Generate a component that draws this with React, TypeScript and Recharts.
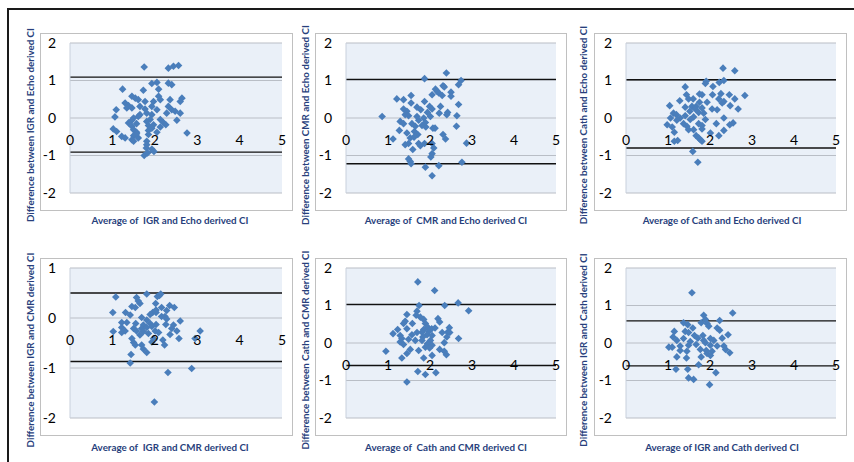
import { ScatterChart, Scatter, XAxis, YAxis, CartesianGrid, ReferenceLine } from 'recharts';

type Pt = { x: number; y: number };

const toPts = (rows: number[][]): Pt[] => rows.map(([x, y]) => ({ x, y }));

// IGR vs Echo
const igrEcho = toPts([
  [1.75, 1.36], [2.32, 1.33], [2.44, 1.38], [2.56, 1.4], [2.05, 0.95], [1.93, 0.92], [2.32, 0.93],
  [2.4, 0.89], [1.24, 0.77], [1.73, 0.74], [2.09, 0.77], [1.46, 0.58], [1.54, 0.53], [1.61, 0.49],
  [1.77, 0.44], [2.09, 0.58], [2.13, 0.49], [1.97, 0.44], [2.36, 0.49], [2.64, 0.53], [2.6, 0.44],
  [1.3, 0.4], [1.38, 0.33], [1.34, 0.27], [1.09, 0.22], [1.46, 0.27], [1.65, 0.31], [1.77, 0.24],
  [1.93, 0.31], [2.05, 0.22], [2.32, 0.31], [2.4, 0.22], [2.48, 0.18], [2.6, 0.13], [2.28, 0.13],
  [1.65, 0.09], [1.61, 0.04], [1.81, 0.13], [1.93, 0.09], [1.06, 0.03], [1.5, 0.0], [1.46, -0.06],
  [1.89, -0.04], [1.81, -0.09], [2.13, -0.04], [2.2, -0.12], [2.52, -0.06], [1.38, -0.13],
  [1.46, -0.22], [1.57, -0.15], [1.85, -0.2], [1.97, -0.18], [2.13, -0.24], [2.26, -0.18],
  [1.02, -0.29], [1.1, -0.36], [1.5, -0.31], [1.57, -0.38], [1.85, -0.33], [1.93, -0.27],
  [2.05, -0.38], [2.76, -0.4], [1.22, -0.49], [1.3, -0.53], [1.5, -0.47], [1.46, -0.58],
  [1.61, -0.53], [1.85, -0.44], [1.5, -0.62], [1.81, -0.62], [1.81, -0.71], [1.8, -0.8],
  [1.93, -0.83], [1.98, -0.89], [1.75, -1.0], [1.83, -0.93], [1.57, -0.42],
]);

// CMR vs Echo
const cmrEcho = toPts([
  [2.39, 1.2], [1.87, 1.05], [2.74, 1.0], [2.68, 0.89], [2.31, 0.86], [2.34, 0.83], [2.13, 0.77],
  [2.17, 0.71], [2.21, 0.67], [2.5, 0.69], [2.5, 0.58], [2.05, 0.62], [2.29, 0.6], [1.55, 0.6],
  [1.21, 0.51], [1.37, 0.49], [1.87, 0.44], [1.55, 0.4], [2.68, 0.36], [1.69, 0.29], [1.99, 0.31],
  [2.05, 0.24], [2.25, 0.31], [1.37, 0.24], [1.45, 0.18], [1.41, 0.09], [1.49, 0.06], [1.78, 0.22],
  [1.94, 0.15], [2.22, 0.13], [2.42, 0.15], [2.4, 0.09], [2.64, 0.06], [0.86, 0.04], [1.69, 0.04],
  [1.85, 0.0], [2.01, 0.04], [1.29, -0.09], [1.37, -0.15], [1.57, -0.15], [1.73, -0.06],
  [1.89, -0.12], [1.65, -0.22], [1.81, -0.2], [1.9, -0.24], [2.07, -0.27], [2.12, -0.27],
  [2.63, -0.22], [1.27, -0.33], [1.45, -0.4], [1.63, -0.36], [1.71, -0.44], [1.62, -0.51],
  [1.53, -0.53], [2.31, -0.44], [2.37, -0.56], [1.12, -0.56], [1.41, -0.71], [1.49, -0.68],
  [1.73, -0.68], [1.77, -0.74], [1.87, -0.68], [2.05, -0.68], [2.09, -0.8], [2.87, -0.67],
  [1.59, -0.84], [2.05, -0.95], [1.49, -1.09], [1.53, -1.16], [1.55, -1.22], [2.21, -1.27],
  [1.89, -1.31], [2.76, -1.18], [2.05, -1.54], [2.02, -1.04],
]);

// Cath vs Echo
const cathEcho = toPts([
  [2.31, 1.33], [2.59, 1.26], [2.33, 1.0], [1.91, 0.98], [1.89, 0.92], [2.22, 0.95], [2.07, 0.84],
  [1.41, 0.83], [1.44, 0.62], [1.75, 0.64], [1.81, 0.62], [2.06, 0.62], [2.26, 0.65], [2.46, 0.62],
  [2.83, 0.6], [1.49, 0.51], [1.6, 0.51], [2.21, 0.51], [2.33, 0.44], [2.29, 0.4], [2.59, 0.51],
  [1.28, 0.46], [1.75, 0.42], [1.93, 0.42], [1.04, 0.33], [2.48, 0.33], [1.41, 0.29], [1.57, 0.31],
  [1.67, 0.31], [1.65, 0.24], [1.81, 0.27], [2.05, 0.24], [2.17, 0.22], [2.67, 0.24], [1.52, 0.18],
  [1.73, 0.15], [1.13, 0.13], [1.2, 0.09], [1.85, 0.13], [1.41, 0.06], [1.61, 0.03], [1.06, 0.0],
  [1.29, 0.0], [2.33, 0.0], [1.53, -0.04], [1.89, -0.04], [1.21, -0.06], [2.55, -0.13],
  [2.47, -0.18], [0.98, -0.18], [1.37, -0.15], [1.73, -0.15], [2.15, -0.15], [1.81, -0.2],
  [1.45, -0.22], [1.1, -0.24], [1.49, -0.31], [1.61, -0.31], [1.81, -0.29], [2.33, -0.33],
  [1.15, -0.38], [2.01, -0.4], [2.21, -0.47], [1.67, -0.47], [1.73, -0.53], [1.77, -0.58],
  [1.15, -0.62], [1.23, -0.6], [1.81, -0.62], [1.59, -0.89], [1.71, -1.18],
]);

// IGR vs CMR
const igrCmr = toPts([
  [1.81, 0.48], [2.14, 0.48], [2.06, 0.43], [1.08, 0.42], [1.57, 0.41], [2.11, 0.45], [1.61, 0.34],
  [1.65, 0.29], [2.02, 0.29], [1.46, 0.23], [1.54, 0.21], [2.16, 0.21], [2.35, 0.25], [2.46, 0.21],
  [2.03, 0.16], [2.28, 0.15], [1.95, 0.11], [2.03, 0.11], [1.01, 0.11], [1.31, 0.11], [1.42, 0.06],
  [1.89, 0.07], [2.16, 0.03], [2.24, 0.03], [1.69, 0.01], [2.28, -0.02], [1.81, -0.04],
  [2.6, -0.06], [1.22, -0.09], [1.34, -0.09], [1.55, -0.11], [1.89, -0.11], [1.73, -0.14],
  [2.03, -0.13], [2.26, -0.13], [2.44, -0.14], [1.22, -0.19], [1.5, -0.21], [1.69, -0.21],
  [1.81, -0.19], [1.93, -0.17], [2.4, -0.21], [1.3, -0.26], [1.57, -0.26], [1.73, -0.27],
  [2.01, -0.26], [3.07, -0.26], [1.02, -0.27], [1.22, -0.29], [1.85, -0.31], [2.09, -0.29],
  [2.52, -0.26], [2.36, -0.33], [1.65, -0.34], [1.46, -0.41], [1.97, -0.41], [2.19, -0.44],
  [2.57, -0.41], [2.95, -0.41], [1.5, -0.49], [1.54, -0.54], [1.69, -0.54], [1.93, -0.48],
  [2.23, -0.54], [1.73, -0.62], [1.81, -0.69], [1.44, -0.73], [1.42, -0.9], [2.31, -1.09],
  [2.87, -1.01], [1.99, -1.68],
]);

// Cath vs CMR
const cathCmr = toPts([
  [1.71, 1.63], [2.11, 1.4], [2.67, 1.07], [2.35, 1.0], [1.74, 1.0], [2.92, 0.86], [1.69, 0.85],
  [1.45, 0.76], [1.67, 0.74], [1.77, 0.69], [1.85, 0.63], [2.19, 0.65], [2.23, 0.56], [1.41, 0.58],
  [1.37, 0.52], [1.58, 0.52], [1.89, 0.52], [1.94, 0.43], [2.46, 0.41], [1.23, 0.36], [1.45, 0.38],
  [2.04, 0.38], [2.12, 0.4], [1.85, 0.36], [1.81, 0.29], [1.69, 0.28], [1.97, 0.31], [2.42, 0.29],
  [1.12, 0.25], [2.29, 0.28], [2.47, 0.28], [1.57, 0.22], [1.93, 0.22], [2.05, 0.2], [1.29, 0.2],
  [1.83, 0.16], [2.4, 0.16], [1.33, 0.12], [2.68, 0.12], [1.49, 0.1], [1.65, 0.07], [1.81, 0.07],
  [2.01, 0.07], [1.29, 0.03], [2.34, 0.01], [1.37, -0.04], [1.94, -0.02], [2.05, -0.06],
  [1.89, -0.11], [1.99, -0.13], [0.95, -0.22], [1.53, -0.17], [1.73, -0.2], [2.23, -0.17],
  [2.34, -0.22], [1.45, -0.28], [2.39, -0.31], [2.05, -0.33], [1.33, -0.4], [1.85, -0.4],
  [1.71, -0.76], [1.89, -0.84], [2.14, -0.79], [1.45, -1.04],
]);

// IGR vs Cath
const igrCath = toPts([
  [1.57, 1.34], [2.54, 0.8], [1.85, 0.74], [1.89, 0.63], [2.23, 0.6], [1.37, 0.54], [1.47, 0.49],
  [1.79, 0.54], [1.93, 0.52], [1.97, 0.45], [1.59, 0.4], [2.17, 0.4], [2.23, 0.34], [1.15, 0.31],
  [1.41, 0.31], [1.49, 0.28], [1.63, 0.2], [1.83, 0.2], [2.43, 0.22], [1.12, 0.16], [1.37, 0.12],
  [1.71, 0.13], [2.01, 0.12], [2.29, 0.13], [1.21, 0.07], [1.53, 0.04], [1.85, 0.07], [2.09, 0.07],
  [1.89, 0.01], [1.02, -0.11], [1.1, -0.11], [1.29, -0.08], [1.49, -0.06], [1.67, -0.04],
  [2.01, -0.06], [2.17, -0.08], [2.33, -0.08], [1.29, -0.2], [1.45, -0.22], [1.77, -0.17],
  [1.91, -0.2], [2.05, -0.22], [2.37, -0.17], [2.47, -0.26], [1.21, -0.37], [1.44, -0.4],
  [1.79, -0.37], [1.93, -0.28], [2.01, -0.33], [1.73, -0.58], [1.19, -0.7], [1.47, -0.7],
  [2.14, -0.79], [1.49, -0.93], [1.61, -0.97], [1.99, -1.11],
]);

const seriesList = [igrEcho, cmrEcho, cathEcho, igrCmr, cathCmr, igrCath];
const limitList = [
  [1.09, -0.91],
  [1.03, -1.22],
  [1.02, -0.8],
  [0.5, -0.87],
  [1.03, -0.6],
  [0.59, -0.61],
];
const yTickList = [
  [2, 1, 0, -1, -2],
  [2, 1, 0, -1, -2],
  [2, 1, 0, -1, -2],
  [1, 0, -1, -2],
  [2, 1, 0, -1, -2],
  [2, 1, 0, -1, -2],
];
const xTicks = [0, 1, 2, 3, 4, 5];
const yTitles = [
  'Difference between IGR and Echo derived CI',
  'Difference between CMR and Echo derived CI',
  'Difference between Cath and Echo derived CI',
  'Difference between IGR and CMR derived CI',
  'Difference between Cath and CMR derived CI',
  'Difference between IGR and Cath derived CI',
];
const xTitles = [
  'Average of  IGR and Echo derived CI',
  'Average of  CMR and Echo derived CI',
  'Average of Cath and Echo derived CI',
  'Average of  IGR and CMR derived CI',
  'Average of  Cath and CMR derived CI',
  'Average of IGR and Cath derived CI',
];

const COLS = [
  { boxLeft: 40, boxWidth: 253, axisW: 30, yTitleX: 30, xTitleX: 170 },
  { boxLeft: 315, boxWidth: 252, axisW: 31, yTitleX: 305, xTitleX: 446 },
  { boxLeft: 594, boxWidth: 253, axisW: 32, yTitleX: 583, xTitleX: 722 },
];
const ROWS = [
  { boxTop: 33, yTitleY: 125, xTitleY: 220 },
  { boxTop: 258, yTitleY: 350, xTitleY: 447 },
];
const BOX_H = 178;
const PLOT_TOP = 10;
const AXIS_H = 18;
const PLOT_H = BOX_H - PLOT_TOP - AXIS_H;

const DOT = '#4a7ebb';
const TITLE = '#283f7c';
const FONT = 'Lato, "Open Sans", sans-serif';

function Diamond(props: any) {
  const { cx, cy } = props;
  if (cx == null || cy == null) return null;
  const r = 3.8;
  return <path d={`M${cx},${cy - r}L${cx + r},${cy}L${cx},${cy + r}L${cx - r},${cy}Z`} fill={DOT} />;
}

function Panel({ idx }: { idx: number }) {
  const col = COLS[idx % 3];
  const row = ROWS[Math.floor(idx / 3)];
  const ticks = yTickList[idx];
  const yMin = Math.min(...ticks);
  const yMax = Math.max(...ticks);
  // x labels sit just below the zero line, as in Excel with the axis crossing at 0
  const lift = (PLOT_H * (0 - yMin)) / (yMax - yMin) - 21;
  const XTick = (p: any) => (
    <text x={p.x} y={p.y - lift} textAnchor="middle" dominantBaseline="central" fontSize={14} fontFamily={FONT} fill="#000">
      {p.payload.value}
    </text>
  );
  return (
    <>
      <div
        style={{
          position: 'absolute',
          left: col.boxLeft,
          top: row.boxTop,
          width: col.boxWidth,
          height: BOX_H,
          boxSizing: 'border-box',
          border: '1px solid #c0c0c0',
          background: '#fff',
        }}
      />
      <div style={{ position: 'absolute', left: col.boxLeft, top: row.boxTop }}>
        <ScatterChart width={col.boxWidth} height={BOX_H} margin={{ top: PLOT_TOP, right: 11, bottom: 0, left: 0 }}>
          <CartesianGrid vertical={false} horizontal stroke="#b9bec6" strokeWidth={1.2} fill="#eaf0f8" />
          <XAxis
            type="number"
            dataKey="x"
            domain={[0, 5]}
            ticks={xTicks}
            interval={0}
            height={AXIS_H}
            axisLine={false}
            tickLine={false}
            tickSize={0}
            tickMargin={0}
            tick={XTick}
          />
          <YAxis
            type="number"
            dataKey="y"
            domain={[yMin, yMax]}
            ticks={ticks}
            interval={0}
            width={col.axisW}
            axisLine={{ stroke: '#c8d0dc' }}
            tickLine={false}
            tickSize={6}
            tickMargin={8}
            tick={{ fontSize: 14, fontFamily: FONT, fill: '#000' }}
          />
          {limitList[idx].map((v, i) => (
            <ReferenceLine key={i} y={v} stroke="#111" strokeWidth={1.3} />
          ))}
          <Scatter data={seriesList[idx]} shape={Diamond} isAnimationActive={false} />
        </ScatterChart>
      </div>
      <div
        style={{
          position: 'absolute',
          left: col.yTitleX,
          top: row.yTitleY,
          transform: 'translate(-50%, -50%) rotate(-90deg)',
          whiteSpace: 'pre',
          fontFamily: FONT,
          fontWeight: 700,
          fontSize: 9.8,
          color: TITLE,
        }}
      >
        {yTitles[idx]}
      </div>
      <div
        style={{
          position: 'absolute',
          left: col.xTitleX,
          top: row.xTitleY,
          transform: 'translate(-50%, -50%)',
          whiteSpace: 'pre',
          fontFamily: FONT,
          fontWeight: 700,
          fontSize: 9.8,
          color: TITLE,
        }}
      >
        {xTitles[idx]}
      </div>
    </>
  );
}

export default function App() {
  return (
    <div style={{ position: 'absolute', left: 0, top: 0, width: 854, height: 462, overflow: 'hidden', background: '#fff' }}>
      <div
        style={{
          position: 'absolute',
          left: 7,
          top: 8,
          width: 860,
          height: 470,
          borderTop: '2px solid #1a1a1a',
          borderLeft: '2px solid #1a1a1a',
        }}
      />
      {seriesList.map((_, i) => (
        <Panel key={i} idx={i} />
      ))}
    </div>
  );
}
